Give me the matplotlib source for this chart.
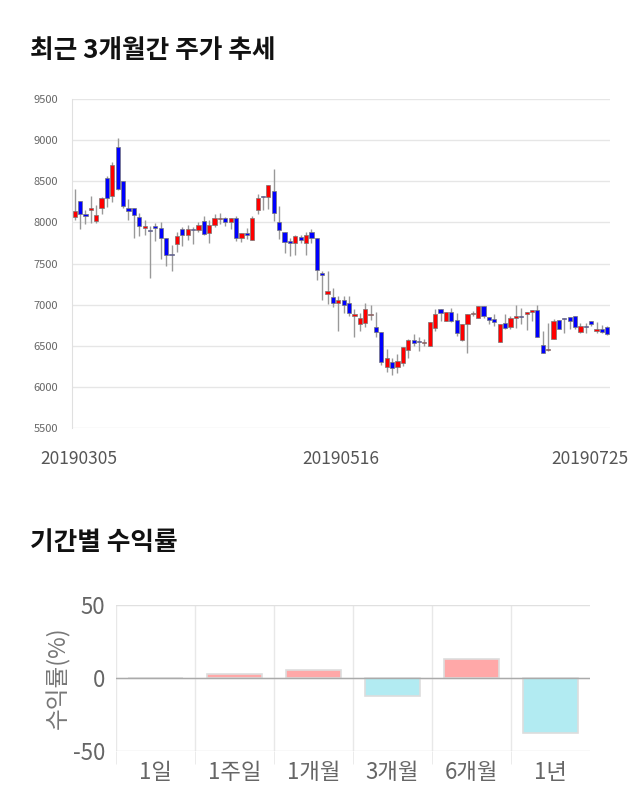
import numpy as np
import matplotlib
matplotlib.use('Agg')
import matplotlib.pyplot as plt
from matplotlib.transforms import ScaledTranslation

plt.rcParams['font.family'] = ['Noto Sans CJK KR', 'DejaVu Sans']

# 일봉 데이터 (2019-03-05 ~ 2019-07-25)
opens = [8060, 8260, 8100, 8150, 8015, 8180, 8545, 8315, 8920, 8500,
         8170, 8180, 8065, 7935, 7910, 7950, 7930, 7810, 7615, 7740,
         7915, 7845, 7915, 7910, 8015, 7865, 7965, 8045, 8055, 8005,
         8050, 7805, 7865, 7785, 8155, 8315, 8305, 8380, 8010, 7885,
         7770, 7755, 7825, 7755, 7885, 7815, 7380, 7135, 7095, 7025,
         7055, 7025, 6860, 6765, 6775, 6875, 6730, 6665, 6245, 6305,
         6240, 6290, 6450, 6565, 6545, 6535, 6496, 6710, 6950, 6801,
         6907, 6810, 6569, 6768, 6888, 6841, 6984, 6854, 6825, 6545,
         6780, 6724, 6842, 6858, 6886, 6906, 6939, 6508, 6445, 6580,
         6817, 6832, 6845, 6866, 6671, 6734, 6805, 6675, 6700, 6728]
highs = [8400, 8260, 8150, 8320, 8210, 8310, 8560, 8730, 9020, 8500,
         8280, 8180, 8120, 8030, 7960, 7990, 8000, 7810, 7720, 7885,
         7940, 7970, 7940, 8010, 8080, 8030, 8100, 8110, 8070, 8050,
         8080, 7865, 7930, 8080, 8345, 8315, 8460, 8645, 8200, 7885,
         7815, 7845, 7845, 7885, 7920, 7815, 7410, 7410, 7205, 7105,
         7105, 7100, 6945, 6895, 7025, 6990, 6910, 6665, 6455, 6355,
         6405, 6490, 6580, 6640, 6605, 6577, 6789, 6950, 6950, 6915,
         6965, 6895, 6770, 6890, 6920, 6984, 6984, 6854, 6880, 6768,
         6890, 6862, 7000, 6960, 6906, 6939, 7000, 6679, 6780, 6830,
         6817, 6840, 6845, 6866, 6780, 6780, 6805, 6790, 6748, 6740]
lows = [8030, 7920, 7980, 7990, 7990, 8100, 8190, 8250, 8390, 8170,
        8025, 7815, 7830, 7850, 7320, 7770, 7560, 7470, 7410, 7640,
        7715, 7785, 7735, 7880, 7850, 7755, 7940, 7975, 7960, 7920,
        7775, 7765, 7795, 7785, 8100, 8155, 8160, 8020, 7795, 7625,
        7595, 7605, 7750, 7605, 7750, 7300, 7055, 7005, 6970, 6680,
        6895, 6860, 6610, 6680, 6730, 6810, 6610, 6260, 6180, 6150,
        6170, 6250, 6355, 6500, 6435, 6500, 6496, 6680, 6795, 6795,
        6790, 6618, 6560, 6415, 6860, 6841, 6841, 6760, 6740, 6545,
        6700, 6700, 6720, 6770, 6687, 6800, 6606, 6407, 6440, 6580,
        6700, 6660, 6700, 6700, 6660, 6660, 6740, 6660, 6658, 6635]
closes = [8140, 8100, 8080, 8170, 8095, 8300, 8300, 8700, 8400, 8205,
          8140, 8095, 7960, 7960, 7900, 7930, 7805, 7605, 7600, 7830,
          7845, 7915, 7910, 7965, 7855, 7965, 8055, 8055, 8005, 8050,
          7805, 7865, 7845, 8050, 8295, 8305, 8460, 8110, 7905, 7765,
          7755, 7830, 7790, 7845, 7805, 7425, 7355, 7160, 7025, 7055,
          6990, 6895, 6885, 6837, 6945, 6890, 6665, 6305, 6355, 6235,
          6317, 6490, 6565, 6535, 6540, 6550, 6789, 6880, 6902, 6907,
          6800, 6660, 6760, 6890, 6895, 6984, 6862, 6813, 6793, 6768,
          6715, 6842, 6858, 6855, 6906, 6939, 6606, 6407, 6455, 6797,
          6703, 6828, 6800, 6728, 6736, 6730, 6764, 6707, 6667, 6638]
date_ticks = [0, 50, 99]
date_labels = ['20190305', '20190516', '20190725']
price_ticks = [5500, 6000, 6500, 7000, 7500, 8000, 8500, 9000, 9500]

# 기간별 수익률
periods = ['1일', '1주일', '1개월', '3개월', '6개월', '1년']
returns = [0, 3.0, 5.8, -12.0, 13.3, -37.5]

fig = plt.figure(figsize=(6.4, 8.1), dpi=100)

fig.text(30 / 640, 1 - 51 / 810, '최근 3개월간 주가 추세', fontsize=18.5,
         fontweight='bold', va='center', ha='left', color='#111111')
fig.text(30 / 640, 1 - 543 / 810, '기간별 수익률', fontsize=18.5,
         fontweight='bold', va='center', ha='left', color='#111111')

# 캔들 차트
ax = fig.add_axes([72 / 640, 1 - 428 / 810, 538 / 640, 329 / 810])
o = np.array(opens)
h = np.array(highs)
l = np.array(lows)
c = np.array(closes)
x = np.arange(len(o))
up = c >= o
colors = np.where(up, '#ff0000', '#0000ff')
body_bottom = np.minimum(o, c)
body_height = np.maximum(np.abs(c - o), 12)
ax.vlines(x, l, h, color='#999999', linewidth=1, zorder=2)
ax.bar(x, body_height, bottom=body_bottom, width=0.78, color=colors,
       edgecolor='#777777', linewidth=0.5, zorder=3)

ax.set_xlim(-0.5, 99.5)
ax.set_ylim(5500, 9500)
ax.set_yticks(price_ticks)
ax.set_yticklabels([str(p) for p in price_ticks])
ax.grid(axis='y', color='#e6e6e6', linewidth=1)
ax.set_axisbelow(True)
for s in ['top', 'right', 'bottom']:
    ax.spines[s].set_visible(False)
ax.spines['left'].set_color('#e0e0e0')
ax.tick_params(axis='y', length=0, pad=10, labelsize=8, labelcolor='#666666')
ax.set_xticks(date_ticks)
ax.set_xticklabels(date_labels)
ax.tick_params(axis='x', length=0, pad=16, labelsize=12.5, labelcolor='#555555')
offsets = [4, -3, -17]
for lab, dx in zip(ax.get_xticklabels(), offsets):
    lab.set_transform(lab.get_transform() + ScaledTranslation(dx / 100, 0, fig.dpi_scale_trans))

# 수익률 막대
ax2 = fig.add_axes([116 / 640, 1 - 751 / 810, 474 / 640, 146 / 810])
r = np.array(returns)
bar_colors = np.where(r >= 0, '#ffa8a8', '#b2ebf2')
ax2.bar(np.arange(len(periods)), r, width=0.7, color=bar_colors,
        edgecolor='#dddddd', linewidth=1.2, zorder=3)
ax2.axhline(0, color='#aaaaaa', linewidth=1, zorder=4)
ax2.set_xlim(-0.5, len(periods) - 0.5)
ax2.set_ylim(-50, 50)
ax2.set_yticks([-50, 0, 50])
ax2.set_yticklabels(['-50', '0', '50'])
ax2.set_xticks(np.arange(len(periods)))
ax2.set_xticklabels(periods)
ax2.set_xticks(np.arange(-0.5, len(periods) - 1), minor=True)
ax2.grid(axis='y', which='major', color='#e0e0e0', linewidth=1)
ax2.grid(axis='x', which='minor', color='#e8e8e8', linewidth=1)
ax2.set_axisbelow(True)
for s in ['top', 'right', 'left', 'bottom']:
    ax2.spines[s].set_visible(False)
ax2.tick_params(axis='x', which='major', length=0, pad=7, labelsize=16, labelcolor='#666666')
ax2.tick_params(axis='x', which='minor', length=9, color='#e8e8e8')
ax2.tick_params(axis='y', length=0, pad=8, labelsize=16, labelcolor='#666666')
ax2.set_ylabel('수익률(%)', fontsize=17, color='#777777', labelpad=2)

fig.savefig('out.png', dpi=100)
